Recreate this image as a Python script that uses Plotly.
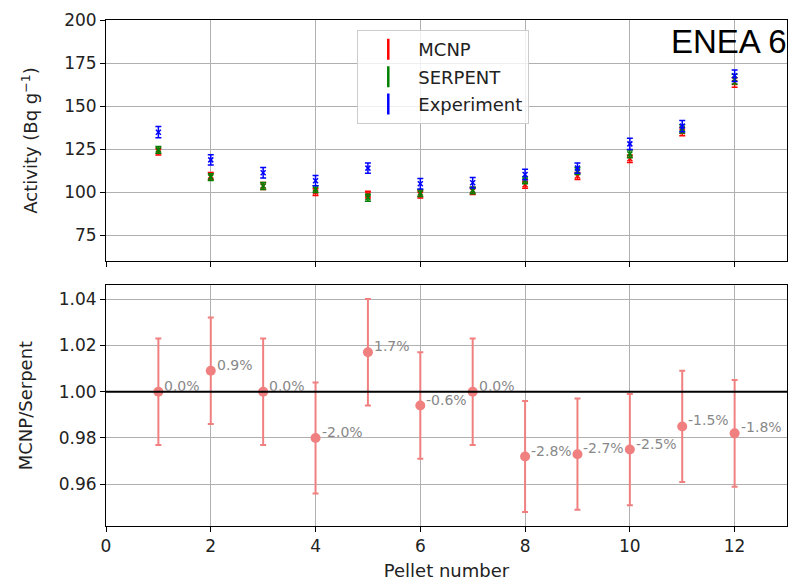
import plotly.graph_objs as go

pellets = [1, 2, 3, 4, 5, 6, 7, 8, 9, 10, 11, 12]

mcnp = [123.5, 109.3, 103.5, 100.0, 98.5, 98.6, 100.6, 104.2, 109.3, 119.3, 135.1, 163.7]
mcnp_err = [2.0, 2.0, 2.0, 2.0, 2.0, 2.0, 2.0, 2.0, 2.0, 2.2, 2.4, 2.8]
serpent = [124.5, 108.7, 103.5, 101.7, 96.7, 99.4, 101.0, 106.8, 112.2, 122.2, 136.7, 165.6]
serpent_err = [2.0, 2.0, 2.0, 2.0, 2.0, 2.0, 2.0, 2.0, 2.0, 2.2, 2.4, 2.8]
experiment = [134.8, 118.7, 111.2, 106.6, 113.9, 104.8, 105.4, 110.2, 113.9, 128.0, 138.3, 167.6]
experiment_err = [3.3, 3.0, 3.0, 3.0, 3.0, 3.0, 3.0, 3.0, 3.0, 3.3, 3.3, 3.3]

ratio = [1.000, 1.009, 1.000, 0.980, 1.017, 0.994, 1.000, 0.972, 0.973, 0.975, 0.985, 0.982]
ratio_err = [0.023, 0.023, 0.023, 0.024, 0.023, 0.023, 0.023, 0.024, 0.024, 0.024, 0.024, 0.023]
ratio_labels = ["0.0%", "0.9%", "0.0%", "-2.0%", "1.7%", "-0.6%", "0.0%",
                "-2.8%", "-2.7%", "-2.5%", "-1.5%", "-1.8%"]

font = "DejaVu Sans"
grid = "#b0b0b0"
coral = "#f08080"

fig = go.Figure()

series = [("MCNP", mcnp, mcnp_err, "red"),
          ("SERPENT", serpent, serpent_err, "green"),
          ("Experiment", experiment, experiment_err, "blue")]

for name, vals, errs, col in series:
    fig.add_trace(go.Scatter(x=pellets, y=vals, mode="markers", name=name,
                             showlegend=False,
                             marker=dict(symbol="x-thin", size=5, color=col,
                                         line=dict(color=col, width=1.5)),
                             error_y=dict(type="data", array=errs, color=col,
                                          thickness=1.5, width=3),
                             xaxis="x", yaxis="y"))

# legend entries drawn like small errorbar glyphs
for name, vals, errs, col in series:
    fig.add_trace(go.Scatter(x=[None], y=[None], mode="markers", name=name,
                             legendgroup=name,
                             marker=dict(symbol="line-ns-open", size=15, color=col,
                                         line=dict(color=col, width=2.5)),
                             xaxis="x", yaxis="y"))

fig.add_trace(go.Scatter(x=pellets, y=ratio, mode="markers", showlegend=False,
                         marker=dict(size=10, color=coral),
                         error_y=dict(type="data", array=ratio_err, color=coral,
                                      thickness=2, width=3),
                         xaxis="x2", yaxis="y2"))

# reference line at 1.0
fig.add_shape(type="line", xref="x2 domain", yref="y2", x0=0, x1=1, y0=1.0, y1=1.0,
              line=dict(color="black", width=2))

for p, r, lab in zip(pellets, ratio, ratio_labels):
    fig.add_annotation(x=p, y=r, xref="x2", yref="y2", text=lab, showarrow=False,
                       xanchor="left", yanchor="middle", xshift=4, yshift=6,
                       font=dict(family=font, size=14, color="#888888"))

fig.add_annotation(x=1.0, y=1.0, xref="x domain", yref="y domain", text="ENEA 6",
                   showarrow=False, xanchor="right", yanchor="top", xshift=2, yshift=-1,
                   font=dict(family="Liberation Sans", size=33, color="black"))

axis_common = dict(showline=True, mirror=True, linecolor="black", linewidth=1,
                   ticks="outside", ticklen=5, tickcolor="black",
                   showgrid=True, gridcolor=grid, gridwidth=1, zeroline=False,
                   tickfont=dict(family=font, size=17, color="#222222"))
title_font = dict(family=font, size=18, color="#222222")

fig.update_layout(
    width=789, height=583,
    margin=dict(l=106, r=2, t=20, b=57),
    plot_bgcolor="white", paper_bgcolor="white",
    font=dict(family=font, size=17, color="#222222"),
    xaxis=dict(domain=[0, 1], range=[0, 13], anchor="y", showticklabels=False,
               tickvals=[0, 2, 4, 6, 8, 10, 12], **axis_common),
    yaxis=dict(domain=[0.524, 1], range=[60, 200], tickvals=[75, 100, 125, 150, 175, 200],
               title=dict(text="Activity (Bq g<sup>−1</sup>)", standoff=21, font=title_font),
               **axis_common),
    xaxis2=dict(domain=[0, 1], range=[0, 13], anchor="y2", matches="x",
                tickvals=[0, 2, 4, 6, 8, 10, 12],
                title=dict(text="Pellet number", standoff=8, font=title_font),
                **axis_common),
    yaxis2=dict(domain=[0, 0.476], range=[0.942, 1.046], anchor="x2",
                tickvals=[0.96, 0.98, 1.00, 1.02, 1.04], tickformat=".2f",
                title=dict(text="MCNP/Serpent", standoff=21, font=title_font),
                **axis_common),
    legend=dict(x=0.369, y=0.98, xanchor="left", yanchor="top",
                bgcolor="rgba(255,255,255,0.8)", bordercolor="#cccccc", borderwidth=1,
                font=dict(family=font, size=18, color="#222222"),
                itemwidth=50, tracegroupgap=1),
)

# drop the page's default body margin so the figure fills the window
fig.write_html("out.html", config={"displayModeBar": False},
               post_script="document.body.style.margin='0';document.body.style.overflow='hidden';")
